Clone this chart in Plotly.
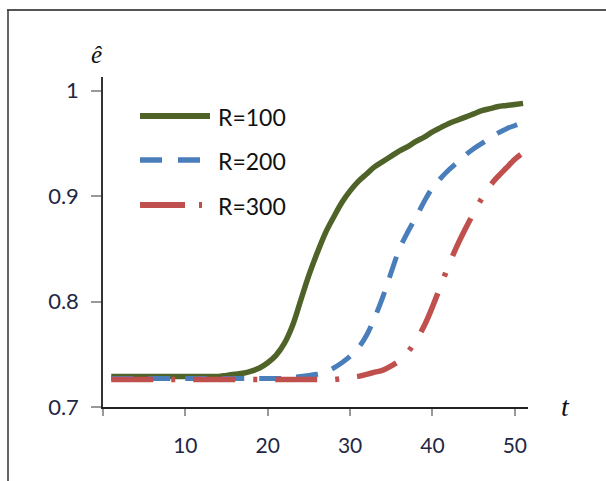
import plotly.graph_objects as go

# ---- data ----
t = list(range(1, 52))

e_r100 = [0.729] * 13 + [
    0.729, 0.730, 0.731, 0.732, 0.734, 0.737, 0.742, 0.749, 0.760, 0.777,
    0.801, 0.825, 0.846, 0.865, 0.880, 0.894, 0.905, 0.914, 0.921, 0.928,
    0.933, 0.938, 0.943, 0.947, 0.952, 0.956, 0.961, 0.965, 0.969, 0.972,
    0.975, 0.978, 0.981, 0.983, 0.985, 0.986, 0.987, 0.988]

e_r200 = [0.727] * 21 + [
    0.727, 0.728, 0.729, 0.730, 0.731, 0.733, 0.737, 0.742, 0.748, 0.756,
    0.768, 0.785, 0.805, 0.828, 0.850, 0.866, 0.880, 0.895, 0.908, 0.917,
    0.925, 0.932, 0.939, 0.945, 0.950, 0.955, 0.960, 0.964, 0.967, 0.970]

e_r300 = [0.726] * 28 + [
    0.727, 0.728, 0.729, 0.731, 0.733, 0.735, 0.739, 0.744, 0.752, 0.763,
    0.777, 0.795, 0.815, 0.835, 0.853, 0.869, 0.884, 0.898, 0.910, 0.919,
    0.927, 0.935, 0.941]

series_names = ["R=100", "R=200", "R=300"]
series_values = [e_r100, e_r200, e_r300]

x_tick_vals = [0, 10, 20, 30, 40, 50]
x_tick_text = ["", "10", "20", "30", "40", "50"]
y_tick_vals = [0.7, 0.8, 0.9, 1.0]
y_tick_text = ["0.7", "0.8", "0.9", "1"]

# ---- styles ----
colors = ["#4f6228", "#4a7ebb", "#c0504d"]
dashes = ["solid", "22px,15px", "42px,18px,4px,18px"]
legend_dashes = ["solid", "22px,16px", "45px,14px,3px,20px"]
widths = [5.5, 5, 5.5]

W, H = 606, 481
ML, MR, MT, MB = 103, 78, 77, 74
PW, PH = W - ML - MR, H - MT - MB


def px(x):
    return (x - ML) / PW


def py(y):
    return (H - MB - y) / PH


fig = go.Figure()
for name, vals, c, d, w in zip(series_names, series_values, colors, dashes, widths):
    fig.add_trace(go.Scatter(x=t, y=vals, mode="lines", name=name,
                             line=dict(color=c, dash=d, width=w, shape="spline", smoothing=1.0),
                             showlegend=False))

shapes = []
annotations = []
# custom legend
leg_y = [116, 160, 205]
for name, c, d, w, yy in zip(series_names, colors, legend_dashes, widths, leg_y):
    shapes.append(dict(type="line", xref="paper", yref="paper",
                       x0=px(140), x1=px(210), y0=py(yy), y1=py(yy),
                       line=dict(color=c, dash=d, width=w + 0.5)))
    annotations.append(dict(xref="paper", yref="paper", x=px(216), y=py(yy + 1),
                            xanchor="left", yanchor="middle", showarrow=False,
                            text=name, font=dict(family="Lato", size=23, color="#111111")))

# frame lines of the picture
shapes.append(dict(type="line", xref="paper", yref="paper", x0=px(7), x1=px(606),
                   y0=py(10), y1=py(10), line=dict(color="#555555", width=2)))
shapes.append(dict(type="line", xref="paper", yref="paper", x0=px(8), x1=px(8),
                   y0=py(10), y1=py(481), line=dict(color="#333333", width=1.5)))

# axis titles
annotations.append(dict(xref="paper", yref="paper", x=px(97), y=py(54),
                        xanchor="center", yanchor="middle", showarrow=False,
                        text="<i>ê</i>", font=dict(family="Liberation Serif", size=25, color="#111111")))
annotations.append(dict(xref="paper", yref="paper", x=px(565), y=py(406),
                        xanchor="center", yanchor="middle", showarrow=False,
                        text="<i>t</i>", font=dict(family="Liberation Serif", size=28, color="#111111")))

fig.update_layout(
    width=W, height=H,
    margin=dict(l=ML, r=MR, t=MT, b=MB, pad=0),
    paper_bgcolor="white", plot_bgcolor="white",
    shapes=shapes, annotations=annotations,
    showlegend=False,
    xaxis=dict(range=[0, 51.6], tickmode="array", tickvals=x_tick_vals, ticktext=x_tick_text,
               showgrid=False, zeroline=False, showline=True, linecolor="#222222", linewidth=2,
               ticks="outside", ticklen=7, tickcolor="#999999", tickwidth=1.5,
               ticklabelstandoff=12,
               tickfont=dict(family="Lato", size=21, color="#1f2745")),
    yaxis=dict(range=[0.7, 1.013], tickmode="array", tickvals=y_tick_vals, ticktext=y_tick_text,
               showgrid=False, zeroline=False, showline=True, linecolor="#333333", linewidth=1.5,
               ticks="outside", ticklen=10, tickcolor="#999999", tickwidth=1.5,
               ticklabelstandoff=8,
               tickfont=dict(family="Lato", size=22, color="#1f2745")),
)

fig.write_html("out.html")
